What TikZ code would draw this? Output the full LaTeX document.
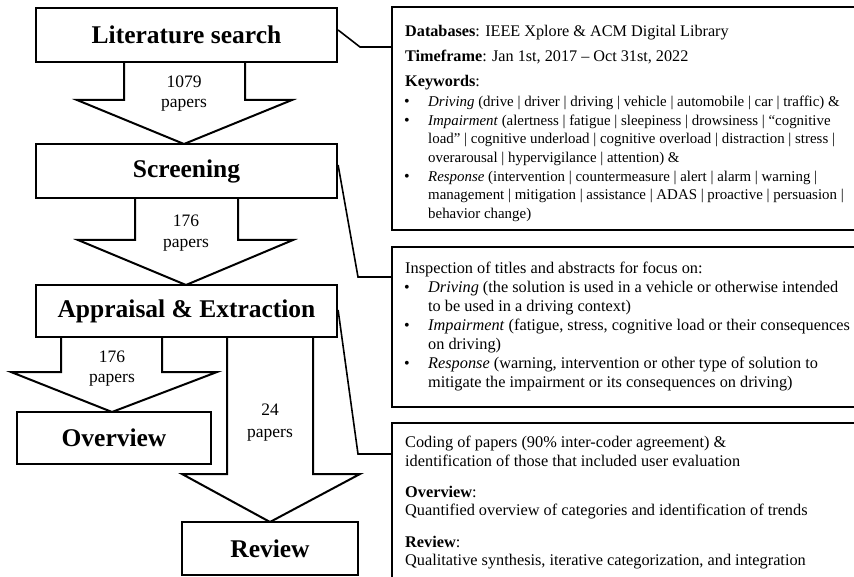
\documentclass[tikz,border=0pt]{standalone}
\usepackage{fontspec}
\setmainfont{Liberation Serif}
\begin{document}
\begin{tikzpicture}[x=1pt,y=-1pt,
  mainbox/.style={draw, line width=2.2pt, fill=white, inner sep=0pt,
    font=\fontsize{25.5}{30}\selectfont\bfseries},
  sidebox/.style={draw, line width=2.2pt, fill=white, inner sep=0pt},
  blockarrow/.style={draw, line width=2pt, fill=white, line join=miter},
  bracket/.style={draw, line width=1.6pt},
  cnt/.style={anchor=base, inner sep=0pt, font=\fontsize{17.5}{21}\selectfont},
  txt/.style={anchor=base west, inner sep=0pt, font=\fontsize{16.3}{19}\selectfont},
  hdr/.style={anchor=base west, inner sep=0pt, font=\fontsize{16.2}{19}\selectfont},
  kw/.style={anchor=base west, inner sep=0pt, font=\fontsize{14.9}{18.7}\selectfont},
  bul/.style={anchor=base west, inner sep=0pt, font=\fontsize{16}{18.7}\selectfont}
]
\useasboundingbox (0,0) rectangle (854,577);
\clip (0,0) rectangle (854,577);

% block arrows
\draw[blockarrow] (124,62) -- (124,100) -- (77,100) -- (184,144) -- (292,100) -- (245,100) -- (245,62);
\draw[blockarrow] (135,198) -- (135,240) -- (78,240) -- (186,285) -- (293,240) -- (238,240) -- (238,198);
\draw[blockarrow] (61,337) -- (61,372) -- (11,372) -- (112,412) -- (217,372) -- (162,372) -- (162,337);
\draw[blockarrow] (227,337) -- (227,474) -- (182,474) -- (270,522) -- (360,474) -- (313,474) -- (313,337);

% main boxes
\node[mainbox, minimum width=301pt, minimum height=54pt] (lit) at (186.5,35) {Literature search};
\node[mainbox, minimum width=301pt, minimum height=54pt] (scr) at (186.5,171) {Screening};
\node[mainbox, minimum width=301pt, minimum height=52pt] (app) at (186.5,311) {Appraisal \& Extraction};
\node[mainbox, minimum width=194pt, minimum height=52pt] (ovr) at (114,438) {Overview};
\node[mainbox, minimum width=176pt, minimum height=53pt] (rev) at (270,548.5) {Review};

% counts
\node[cnt] (c1a) at (184,88) {1079};
\node[cnt] (c1b) at (184,108) {papers};
\node[cnt] (c2a) at (186,227) {176};
\node[cnt] (c2b) at (186,248) {papers};
\node[cnt] (c3a) at (112,362) {176};
\node[cnt] (c3b) at (112,382) {papers};
\node[cnt] (c4a) at (270,415) {24};
\node[cnt] (c4b) at (270,437) {papers};

% side boxes
\node[sidebox, minimum width=478pt, minimum height=223pt] (r1) at (631,118.5) {};
\node[sidebox, minimum width=478pt, minimum height=160pt] (r2) at (631,327) {};
\node[sidebox, minimum width=478pt, minimum height=177pt] (r3) at (631,511.5) {};

% brackets
\coordinate (k1) at (360,47);
\coordinate (k2) at (358,277);
\coordinate (k3) at (358,454);
\draw[bracket] ([yshift=5pt]lit.east) -- (k1) -- (r1.west |- k1);
\draw[bracket] ([yshift=6pt]scr.east) -- (k2) -- (r2.west |- k2);
\draw[bracket] ([yshift=1pt]app.east) -- (k3) -- (r3.west |- k3);

% box 1 text
\node[hdr] (a1) at (405,36.5) {\textbf{Databases}: IEEE Xplore \& ACM Digital Library};
\node[hdr] (a2) at (405,61.5) {\textbf{Timeframe}: Jan 1st, 2017 – Oct 31st, 2022};
\node[hdr] (a3) at (405,86.5) {\textbf{Keywords}:};
\node[bul] (ab1) at (404,106.5) {•};
\node[kw] (a4) at (428,106.5) {\textit{Driving} (drive | driver | driving | vehicle | automobile | car | traffic) \&};
\node[bul] (ab2) at (404,125.2) {•};
\node[kw] (a5) at (428,125.2) {\textit{Impairment} (alertness | fatigue | sleepiness | drowsiness | “cognitive};
\node[kw] (a6) at (428,143.9) {load” | cognitive underload | cognitive overload | distraction | stress |};
\node[kw] (a7) at (428,162.6) {overarousal | hypervigilance | attention) \&};
\node[bul] (ab3) at (404,181.3) {•};
\node[kw] (a8) at (428,181.3) {\textit{Response} (intervention | countermeasure | alert | alarm | warning |};
\node[kw] (a9) at (428,200) {management | mitigation | assistance | ADAS | proactive | persuasion |};
\node[kw] (a10) at (428,218.7) {behavior change)};

% box 2 text
\node[txt] (b1) at (405,273.5) {Inspection of titles and abstracts for focus on:};
\node[bul] (bb1) at (404,292.5) {•};
\node[txt] (b2) at (428,292.5) {\textit{Driving} (the solution is used in a vehicle or otherwise intended};
\node[txt] (b3) at (428,311.5) {to be used in a driving context)};
\node[bul] (bb2) at (404,330.5) {•};
\node[txt] (b4) at (428,330.5) {\textit{Impairment} (fatigue, stress, cognitive load or their consequences};
\node[txt] (b5) at (428,349.5) {on driving)};
\node[bul] (bb3) at (404,368.5) {•};
\node[txt] (b6) at (428,368.5) {\textit{Response} (warning, intervention or other type of solution to};
\node[txt] (b7) at (428,387.5) {mitigate the impairment or its consequences on driving)};

% box 3 text
\node[txt] (d1) at (405,447.5) {Coding of papers (90\% inter-coder agreement) \&};
\node[txt] (d2) at (405,466) {identification of those that included user evaluation};
\node[txt] (d3) at (405,497.5) {\textbf{Overview}:};
\node[txt] (d4) at (405,515) {Quantified overview of categories and identification of trends};
\node[txt] (d5) at (405,547) {\textbf{Review}:};
\node[txt] (d6) at (405,565) {Qualitative synthesis, iterative categorization, and integration};
\end{tikzpicture}
\end{document}
